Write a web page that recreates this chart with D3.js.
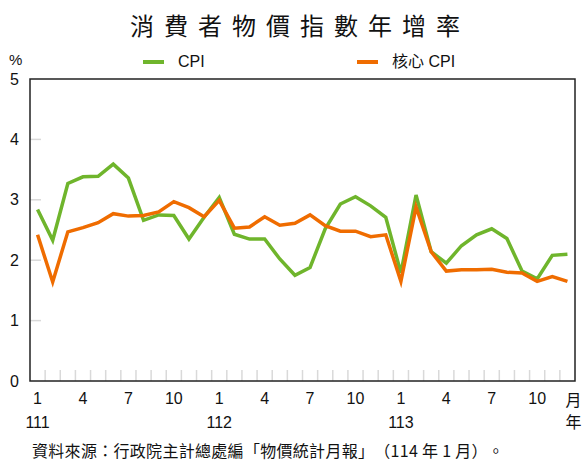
<!DOCTYPE html>
<html>
<head>
<meta charset="utf-8">
<script src="https://cdn.jsdelivr.net/npm/d3@7"></script>
<style>
  body { margin: 0; background: #fff; }
  text { font-family: "Liberation Sans", Arial, "Noto Sans CJK TC", sans-serif; fill: #111; }
  .cjk { font-family: "Noto Sans CJK TC", "Liberation Sans", sans-serif; text-spacing-trim: space-all; }
</style>
</head>
<body>
<svg id="chart"></svg>
<script>
const months = d3.range(36).map((i) => `${111 + Math.floor(i / 12)}-${(i % 12) + 1}`);
const cpi = [
  2.84, 2.33, 3.27, 3.38, 3.39, 3.59, 3.36, 2.66, 2.75, 2.74, 2.35, 2.71,
  3.04, 2.43, 2.35, 2.35, 2.02, 1.75, 1.88, 2.52, 2.93, 3.05, 2.9, 2.71,
  1.79, 3.08, 2.14, 1.95, 2.24, 2.42, 2.52, 2.36, 1.82, 1.69, 2.08, 2.1
];
const coreCpi = [
  2.42, 1.64, 2.47, 2.54, 2.62, 2.77, 2.73, 2.74, 2.8, 2.97, 2.87, 2.72,
  2.99, 2.53, 2.55, 2.72, 2.58, 2.61, 2.75, 2.57, 2.48, 2.48, 2.39, 2.42,
  1.65, 2.88, 2.14, 1.82, 1.84, 1.84, 1.85, 1.8, 1.79, 1.65, 1.73, 1.65
];
const yTicks = [0, 1, 2, 3, 4, 5];
const yearLabels = ["111", "112", "113"];

const width = 583;
const height = 461;
const margin = { top: 79, right: 8, bottom: 80, left: 30 };

const svg = d3.select("#chart").attr("width", width).attr("height", height);

// scales
const x = d3
  .scaleBand()
  .domain(months)
  .range([margin.left, width - margin.right])
  .padding(0);
const xc = (d) => x(d) + x.bandwidth() / 2;

const y = d3
  .scaleLinear()
  .domain([0, 5])
  .range([height - margin.bottom, margin.top]);

// title
svg
  .append("text")
  .attr("class", "cjk")
  .attr("x", 130)
  .attr("y", 35)
  .attr("font-size", "24px")
  .attr("font-weight", 400)
  .attr("letter-spacing", "10px")
  .text("消費者物價指數年增率");

// light tick marks inside plot
svg
  .append("g")
  .selectAll("line")
  .data(yTicks.slice(1, -1))
  .enter()
  .append("line")
  .attr("x1", margin.left)
  .attr("x2", margin.left + 11)
  .attr("y1", (d) => y(d))
  .attr("y2", (d) => y(d))
  .attr("stroke", "#d9d9d9")
  .attr("stroke-width", 1.5);

svg
  .append("g")
  .selectAll("line")
  .data(months.slice(1))
  .enter()
  .append("line")
  .attr("x1", (d) => x(d))
  .attr("x2", (d) => x(d))
  .attr("y1", y(0))
  .attr("y2", y(0) - 11)
  .attr("stroke", "#d9d9d9")
  .attr("stroke-width", 1.5);

// frame
svg
  .append("rect")
  .attr("x", margin.left)
  .attr("y", margin.top)
  .attr("width", width - margin.left - margin.right)
  .attr("height", height - margin.top - margin.bottom)
  .attr("fill", "none")
  .attr("stroke", "#222")
  .attr("stroke-width", 1.5);

// y axis labels
const yAxis = d3
  .axisLeft(y)
  .tickValues(yTicks)
  .tickFormat(d3.format("d"))
  .tickSize(0)
  .tickPadding(11);
svg
  .append("g")
  .attr("transform", `translate(${margin.left},0)`)
  .call(yAxis)
  .call((g) => g.select(".domain").remove())
  .selectAll("text")
  .attr("font-size", "16px")
  .attr("font-family", "Liberation Sans, Arial, sans-serif")
  .attr("fill", "#111");

// x axis month labels
const xAxis = d3
  .axisBottom(x)
  .tickValues(months.filter((d, i) => i % 3 === 0))
  .tickFormat((d) => d.split("-")[1])
  .tickSize(0)
  .tickPadding(12);
svg
  .append("g")
  .attr("transform", `translate(0,${y(0)})`)
  .call(xAxis)
  .call((g) => g.select(".domain").remove())
  .selectAll("text")
  .attr("font-size", "16px")
  .attr("font-family", "Liberation Sans, Arial, sans-serif")
  .attr("fill", "#111");

// year labels
svg
  .append("g")
  .selectAll("text")
  .data(yearLabels)
  .enter()
  .append("text")
  .attr("x", (d) => xc(`${d}-1`))
  .attr("y", 428)
  .attr("text-anchor", "middle")
  .attr("font-size", "16px")
  .text((d) => d);

const last = months[months.length - 1];
svg
  .append("text")
  .attr("class", "cjk")
  .attr("x", xc(last) + 6)
  .attr("y", 406)
  .attr("text-anchor", "middle")
  .attr("font-size", "16px")
  .text("月");
svg
  .append("text")
  .attr("class", "cjk")
  .attr("x", xc(last) + 6)
  .attr("y", 428)
  .attr("text-anchor", "middle")
  .attr("font-size", "16px")
  .text("年");

// % unit
svg
  .append("text")
  .attr("x", 9)
  .attr("y", 65)
  .attr("font-size", "15px")
  .text("%");

// lines
const series = [
  { name: "CPI", values: cpi, color: "#6fb52c", lx: 143 },
  { name: "核心 CPI", values: coreCpi, color: "#ef6c00", lx: 357 }
];

const line = d3
  .line()
  .x((d, i) => xc(months[i]))
  .y((d) => y(d));

series.forEach((s) => {
  svg
    .append("path")
    .datum(s.values)
    .attr("d", line)
    .attr("fill", "none")
    .attr("stroke", s.color)
    .attr("stroke-width", 3.5)
    .attr("stroke-linejoin", "miter");
});

// legend
series.forEach((s) => {
  svg
    .append("line")
    .attr("x1", s.lx)
    .attr("x2", s.lx + 21)
    .attr("y1", 62)
    .attr("y2", 62)
    .attr("stroke", s.color)
    .attr("stroke-width", 4);
  svg
    .append("text")
    .attr("x", s.lx + 35)
    .attr("y", 67)
    .attr("font-size", "16px")
    .text(s.name);
});

// source
svg
  .append("text")
  .attr("class", "cjk")
  .attr("x", 32)
  .attr("y", 457)
  .attr("font-size", "16px")
  .attr("letter-spacing", "0.3px")
  .text("資料來源：行政院主計總處編「物價統計月報」（114 年 1 月）。");
</script>
</body>
</html>
